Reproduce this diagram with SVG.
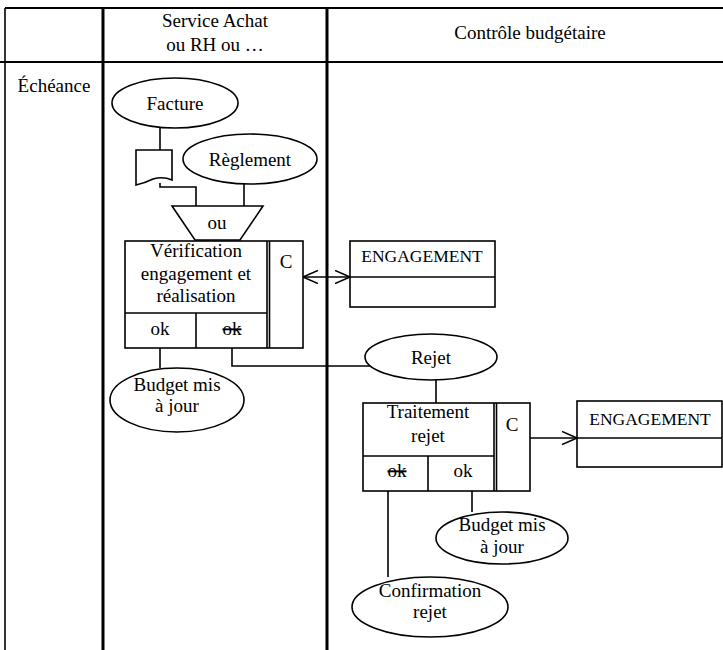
<svg xmlns="http://www.w3.org/2000/svg" width="723" height="650" viewBox="0 0 723 650">
<style>
  .t{font-family:"Liberation Serif","Times New Roman",serif;font-size:19px;fill:#000;text-anchor:middle}
  .s{text-decoration:line-through}
  .ln{fill:none;stroke:#000;stroke-width:1.6}
  .sh{fill:#fff;stroke:#000;stroke-width:1.6}
  .grid{stroke:#000;fill:none}
</style>
<defs>
  <marker id="ah" markerUnits="userSpaceOnUse" markerWidth="18" markerHeight="16" refX="15" refY="7" orient="auto-start-reverse" viewBox="0 0 18 16">
    <path d="M0,0.5 L15,7 L0,13.5" fill="none" stroke="#000" stroke-width="1.6"/>
  </marker>
</defs>
<rect width="723" height="650" fill="#fff"/>
<g id="table">
  <line class="grid" x1="5" y1="8" x2="723" y2="8" stroke-width="2"/>
  <line class="grid" x1="0" y1="62" x2="723" y2="62" stroke-width="2"/>
  <line class="grid" x1="5" y1="8" x2="5" y2="650" stroke-width="1.6"/>
  <line class="grid" x1="103" y1="8" x2="103" y2="650" stroke-width="3"/>
  <line class="grid" x1="327" y1="8" x2="327" y2="650" stroke-width="3"/>
  <text class="t" x="215" y="27">Service Achat</text>
  <text class="t" x="215" y="51">ou RH ou …</text>
  <text class="t" x="530" y="39">Contrôle budgétaire</text>
  <text class="t" x="54" y="92">Échéance</text>
</g>
<g id="connectors">
  <path class="ln" d="M160,128 V150"/>
  <path class="ln" d="M160,183 V187 H196 V206"/>
  <path class="ln" d="M244,184 V206"/>
  <path class="ln" d="M160,348 V368"/>
  <path class="ln" d="M232,348 V366 H370"/>
  <path class="ln" d="M436,380 V403"/>
  <path class="ln" d="M388,491 V577"/>
  <path class="ln" d="M472,491 V512"/>
  <path class="ln" d="M303,277 H350" marker-start="url(#ah)" marker-end="url(#ah)"/>
  <path class="ln" d="M530,438 H577" marker-end="url(#ah)"/>
</g>
<g id="facture">
  <ellipse class="sh" cx="175" cy="103" rx="63" ry="25"/>
  <text class="t" x="175" y="110">Facture</text>
</g>
<g id="document">
  <path class="sh" d="M136,150 H172 V180 Q163,176 153,179 Q145,183 136,185 Z"/>
</g>
<g id="reglement">
  <ellipse class="sh" cx="250" cy="159" rx="67" ry="25"/>
  <text class="t" x="250" y="166">Règlement</text>
</g>
<g id="ou">
  <polygon class="sh" points="172,206 263,206 240,240 195,240"/>
  <text class="t" x="217" y="229">ou</text>
</g>
<g id="verification">
  <rect class="sh" x="125" y="241" width="178" height="107"/>
  <line class="ln" x1="267" y1="241" x2="267" y2="348"/>
  <line class="ln" x1="269.5" y1="241" x2="269.5" y2="348"/>
  <line class="ln" x1="125" y1="313" x2="267" y2="313"/>
  <line class="ln" x1="196" y1="313" x2="196" y2="348"/>
  <text class="t" x="196" y="257">Vérification</text>
  <text class="t" x="196" y="280">engagement et</text>
  <text class="t" x="196" y="302">réalisation</text>
  <text class="t" x="286" y="268">C</text>
  <text class="t" x="160" y="335">ok</text>
  <text class="t s" x="232" y="335">ok</text>
</g>
<g id="engagement1">
  <rect class="sh" x="350" y="241" width="145" height="66"/>
  <line class="ln" x1="350" y1="277" x2="495" y2="277"/>
  <text class="t" x="422" y="262" style="font-size:17.5px">ENGAGEMENT</text>
</g>
<g id="budget1">
  <ellipse class="sh" cx="177" cy="400" rx="67" ry="32"/>
  <text class="t" x="177" y="391">Budget mis</text>
  <text class="t" x="177" y="412">à jour</text>
</g>
<g id="rejet">
  <ellipse class="sh" cx="431" cy="357" rx="66" ry="23"/>
  <text class="t" x="431" y="364">Rejet</text>
</g>
<g id="traitement">
  <rect class="sh" x="363" y="403" width="167" height="88"/>
  <line class="ln" x1="494" y1="403" x2="494" y2="491"/>
  <line class="ln" x1="496.5" y1="403" x2="496.5" y2="491"/>
  <line class="ln" x1="363" y1="456" x2="494" y2="456"/>
  <line class="ln" x1="428" y1="456" x2="428" y2="491"/>
  <text class="t" x="428" y="418">Traitement</text>
  <text class="t" x="428" y="442">rejet</text>
  <text class="t" x="512" y="431">C</text>
  <text class="t s" x="397" y="477">ok</text>
  <text class="t" x="463" y="477">ok</text>
</g>
<g id="engagement2">
  <rect class="sh" x="577" y="401" width="145" height="66"/>
  <line class="ln" x1="577" y1="438" x2="722" y2="438"/>
  <text class="t" x="650" y="425" style="font-size:17.5px">ENGAGEMENT</text>
</g>
<g id="budget2">
  <ellipse class="sh" cx="502" cy="538" rx="66" ry="26"/>
  <text class="t" x="502" y="531">Budget mis</text>
  <text class="t" x="502" y="553">à jour</text>
</g>
<g id="confirmation">
  <ellipse class="sh" cx="430" cy="607" rx="78" ry="30"/>
  <text class="t" x="430" y="597">Confirmation</text>
  <text class="t" x="430" y="618">rejet</text>
</g>
</svg>
